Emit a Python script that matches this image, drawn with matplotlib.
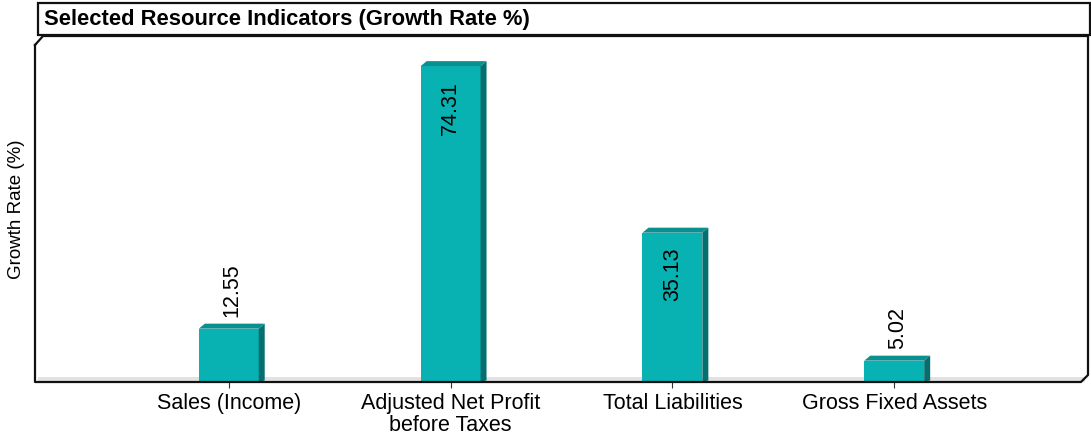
import matplotlib
matplotlib.use("Agg")
import matplotlib.pyplot as plt
from matplotlib.patches import Polygon, Rectangle
from matplotlib.lines import Line2D

categories = ["Sales (Income)", "Adjusted Net Profit\nbefore Taxes", "Total Liabilities", "Gross Fixed Assets"]
growth = [12.55, 74.31, 35.13, 5.02]
labelInside = [False, True, True, False]

W, H = 1091, 436
FRONT = "#08b2b2"
TOP = "#0a9090"
SIDE = "#056e6e"

plt.rcParams["font.family"] = ["Liberation Sans", "DejaVu Sans"]

fig = plt.figure(figsize=(W / 100, H / 100), dpi=100)


def px(x0, y0, x1, y1):
    # Pixelkoordinaten (oben links) in Figurkoordinaten umrechnen
    return [x0 / W, 1 - y1 / H, (x1 - x0) / W, (y1 - y0) / H]


ax = fig.add_axes(px(38, 36, 1085, 382))
ax.set_xlim(-0.86, 3.86)
ax.set_ylim(0, 81.4)
for s in ax.spines.values():
    s.set_visible(False)
ax.set_yticks([])
ax.set_xticks(range(len(categories)))
ax.set_xticklabels(categories, fontsize=15.5, linespacing=1.05)
ax.tick_params(axis="x", length=4, width=0.8, color="#333333", pad=4)

# Grauer Boden
ax.add_patch(Rectangle((0, -0.0), 1, 0.014, transform=ax.transAxes,
                       facecolor="#e2e2e2", edgecolor="none", zorder=0))

barW = 0.27
dxData = 6 * 4.72 / 1047
dyData = 5 * 81.4 / 346
for i, v in enumerate(growth):
    x0 = i - barW / 2
    x1 = i + barW / 2
    ax.add_patch(Rectangle((x0, 0), barW, v, facecolor=FRONT, edgecolor="none", zorder=3))
    ax.add_patch(Polygon([(x0, v), (x1, v), (x1 + dxData, v + dyData), (x0 + dxData, v + dyData)],
                         closed=True, facecolor=TOP, edgecolor="none", zorder=3))
    ax.add_patch(Polygon([(x1, 0), (x1 + dxData, dyData * 0.3), (x1 + dxData, v + dyData), (x1, v)],
                         closed=True, facecolor=SIDE, edgecolor="none", zorder=3))
    if labelInside[i]:
        ax.annotate(f"{v:.2f}", (i, v), xytext=(0, -11), textcoords="offset points",
                    rotation=90, ha="center", va="top", fontsize=15.5, zorder=4)
    else:
        ax.annotate(f"{v:.2f}", (i + dxData / 2, v + dyData), xytext=(0, 5), textcoords="offset points",
                    rotation=90, ha="center", va="bottom", fontsize=15.5, zorder=4)

ax.set_ylabel("Growth Rate (%)", fontsize=13.5, labelpad=9)

# Rahmen mit abgeschraegten Ecken
frame = [(35, 45), (43, 36), (1088, 36), (1088, 375), (1081, 382), (35, 382), (35, 45)]
fig.add_artist(Line2D([p[0] / W for p in frame], [1 - p[1] / H for p in frame],
                      color="#111111", linewidth=1.6, transform=fig.transFigure))

# Titelkasten
fig.add_artist(Rectangle((38 / W, 1 - 35 / H), (1090 - 38) / W, 32 / H, transform=fig.transFigure,
                         facecolor="white", edgecolor="#111111", linewidth=1.6))
fig.text(44 / W, 1 - 19 / H, "Selected Resource Indicators (Growth Rate %)",
         fontsize=15.8, fontweight="bold", ha="left", va="center")

fig.savefig("out.png", dpi=100)
